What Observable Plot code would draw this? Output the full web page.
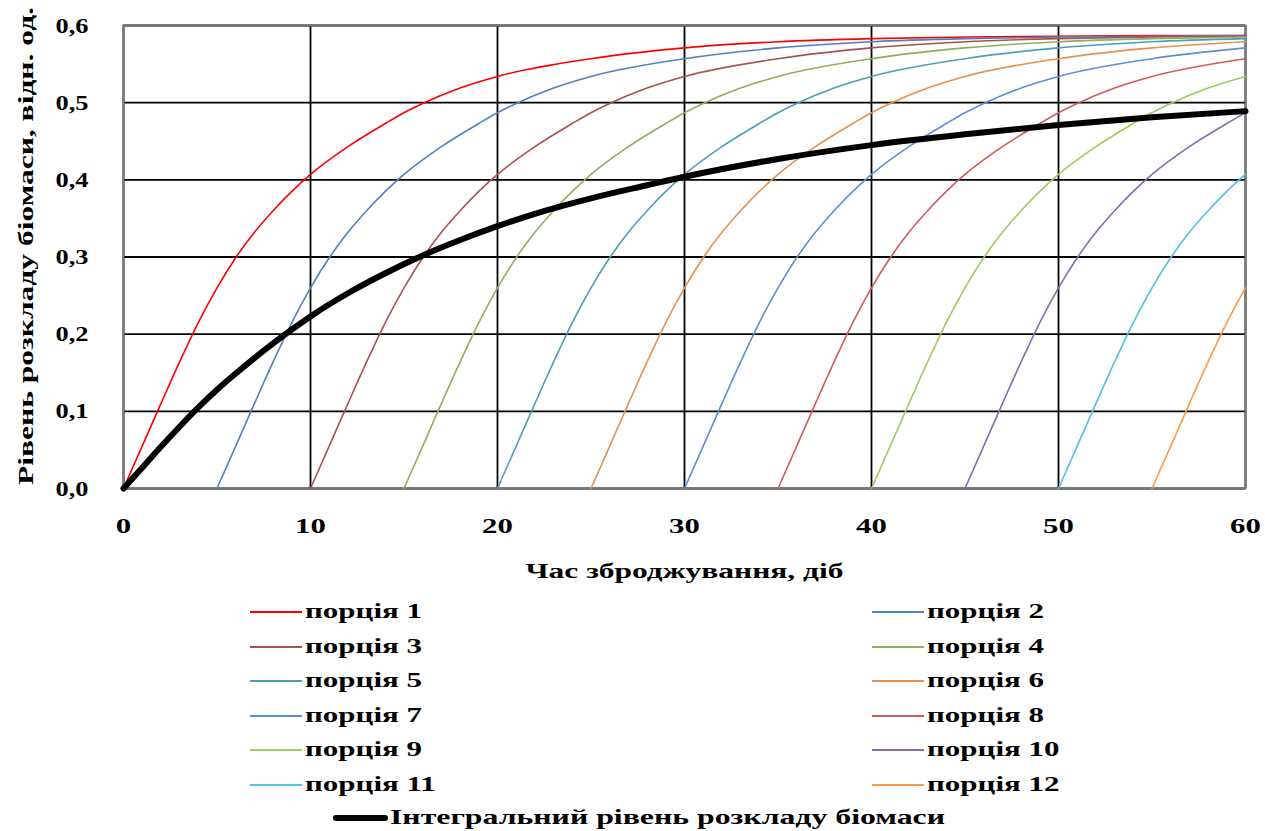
<!DOCTYPE html>
<html>
<head>
<meta charset="utf-8">
<script src="https://cdn.jsdelivr.net/npm/d3@7"></script>
<script src="https://cdn.jsdelivr.net/npm/@observablehq/plot@0.6"></script>
<style>
  html, body { margin: 0; padding: 0; background: #fff; }
  #wrap { position: relative; width: 1265px; height: 831px; font-family: "Times New Roman", "Liberation Serif", Tinos, "DejaVu Serif", serif; }
  #wrap svg { position: absolute; left: 0; top: 0; }
  .lg { position: absolute; font-weight: bold; font-size: 22px; line-height: 22px; color: #000; white-space: nowrap; transform-origin: 0 50%; }
  .sw { position: absolute; height: 0; }
</style>
</head>
<body>
<div id="wrap"></div>
<script>
// ---- data ----
const portionNames = ["порція 1","порція 2","порція 3","порція 4","порція 5","порція 6",
                      "порція 7","порція 8","порція 9","порція 10","порція 11","порція 12"];
const portionStarts = [0, 5, 10, 15, 20, 25, 30, 35, 40, 45, 50, 55];   // day each portion is loaded
const portionColors = ["#ff0000","#4f81bd","#a9524f","#8fb05a","#4aa0b8","#e8914c",
                       "#5b8fd6","#d45a5a","#9ccc5a","#8a6ab0","#4fc3e0","#fb9a4a"];
const ageDays    = [0, 1, 2, 3, 4, 5, 6, 7, 8, 9, 10, 12, 14, 15, 16, 18, 20, 25, 30, 35, 40, 45, 50, 55, 60];
const decayLevel = [0, 0.055, 0.11, 0.164, 0.215, 0.26, 0.299, 0.332, 0.36, 0.385, 0.407, 0.443, 0.473, 0.487,
                    0.499, 0.519, 0.534, 0.557, 0.571, 0.579, 0.583, 0.585, 0.586, 0.587, 0.587];
// integral level of biomass decomposition
const integralDays  = [0, 1, 2, 3, 4, 5, 6, 7, 8, 9, 10, 12, 14, 16, 18, 20, 22, 25, 28, 30, 35, 40, 45, 50, 55, 60];
const integralLevel = [0, 0.027, 0.054, 0.08, 0.105, 0.128, 0.149, 0.169, 0.188, 0.206, 0.223, 0.253, 0.279, 0.302,
                       0.322, 0.34, 0.356, 0.376, 0.393, 0.404, 0.427, 0.445, 0.459, 0.471, 0.481, 0.489];
const integralName = "Інтегральний рівень розкладу біомаси";
const xTicks = [0, 10, 20, 30, 40, 50, 60];
const yTicks = [0, 0.1, 0.2, 0.3, 0.4, 0.5, 0.6];
const xLabel = "Час зброджування, діб";
const yLabel = "Рівень розкладу біомаси, відн. од.";

// ---- tables for the library ----
const rows = [];
portionNames.forEach((name, i) => {
  ageDays.forEach((a, j) => {
    const t = portionStarts[i] + a;
    if (t <= 60) rows.push({ name, t, v: decayLevel[j] });
  });
});
const integral = integralDays.map((d, i) => ({ t: d, v: integralLevel[i] }));
const fmtY = d => d.toFixed(1).replace(".", ",");
const FONT = "'Times New Roman', 'Liberation Serif', Tinos, 'DejaVu Serif', serif";

const chart = Plot.plot({
  width: 1265,
  height: 600,
  marginLeft: 123,
  marginRight: 20,
  marginTop: 25,
  marginBottom: 112,
  style: { fontFamily: FONT, fontSize: "22px", fontWeight: "bold", background: "transparent", color: "#000" },
  x: { domain: [0, 60], label: null },
  y: { domain: [0, 0.6], label: null },
  color: { domain: portionNames, range: portionColors },
  marks: [
    Plot.gridX(xTicks, { stroke: "#000", strokeOpacity: 1, strokeWidth: 1.8 }),
    Plot.gridY(yTicks, { stroke: "#000", strokeOpacity: 1, strokeWidth: 1.8 }),
    Plot.frame({ stroke: "#777", strokeWidth: 2 }),
    Plot.line(rows, { x: "t", y: "v", z: "name", stroke: "name", strokeWidth: 1.6, curve: "monotone-x" }),
    Plot.line(integral, { x: "t", y: "v", stroke: "#000", strokeWidth: 6, curve: "monotone-x" }),
    Plot.axisX(xTicks, { tickSize: 0, tickPadding: 29, tickFormat: d => String(d), fontSize: 22, fontWeight: "bold", className: "xt" }),
    Plot.axisY(yTicks, { tickSize: 0, tickPadding: 35, tickFormat: fmtY, fontSize: 22, fontWeight: "bold", className: "yt" }),
    Plot.text([xLabel], { frameAnchor: "bottom", dy: 82, fontSize: 22, fontWeight: "bold", lineAnchor: "middle", textAnchor: "middle", className: "xl" }),
    Plot.text([yLabel], { frameAnchor: "left", dx: -98, dy: -11, rotate: -90, fontSize: 22, fontWeight: "bold", lineAnchor: "middle", textAnchor: "middle", className: "yl" })
  ]
});
const wrap = document.getElementById("wrap");
wrap.appendChild(chart);

// the reference's lettering is drawn wide: stretch texts to the reference widths
function stretch(selector, fn) {
  chart.querySelectorAll(selector).forEach(el => {
    const w = el.getComputedTextLength();
    if (w > 0) {
      el.setAttribute("textLength", fn(w));
      el.setAttribute("lengthAdjust", "spacingAndGlyphs");
    }
  });
}
stretch("g.xt text", w => w * 1.4);
stretch("g.yt text", w => w * 1.2);
stretch("g.xl text", () => 318);
stretch("g.yl text", () => 478);

// ---- legend (HTML below the SVG) ----
const portionTexts = [];
portionNames.forEach((name, i) => {
  const col = i % 2, row = Math.floor(i / 2);
  const cy = 612 + row * 34.6;
  const lx = col === 0 ? 250 : 872;
  const sw = document.createElement("div");
  sw.className = "sw";
  sw.style.left = lx + "px"; sw.style.top = (cy - 1) + "px"; sw.style.width = "52px";
  sw.style.borderTop = "2px solid " + portionColors[i];
  wrap.appendChild(sw);
  const t = document.createElement("div");
  t.className = "lg"; t.textContent = name;
  t.style.left = (lx + 55) + "px"; t.style.top = (cy - 12) + "px";
  wrap.appendChild(t);
  portionTexts.push(t);
});
const s1 = 117 / portionTexts[0].getBoundingClientRect().width;
portionTexts.forEach(t => { t.style.transform = `scaleX(${s1})`; });
{
  const cy = 818;
  const sw = document.createElement("div");
  sw.className = "sw";
  sw.style.left = "333px"; sw.style.top = (cy - 3) + "px"; sw.style.width = "55px";
  sw.style.borderTop = "6px solid #000"; sw.style.borderRadius = "3px";
  wrap.appendChild(sw);
  const t = document.createElement("div");
  t.className = "lg"; t.textContent = integralName;
  t.style.left = "390px"; t.style.top = (cy - 12) + "px";
  wrap.appendChild(t);
  const s2 = 555 / t.getBoundingClientRect().width;
  t.style.transform = `scaleX(${s2})`;
}
</script>
</body>
</html>
